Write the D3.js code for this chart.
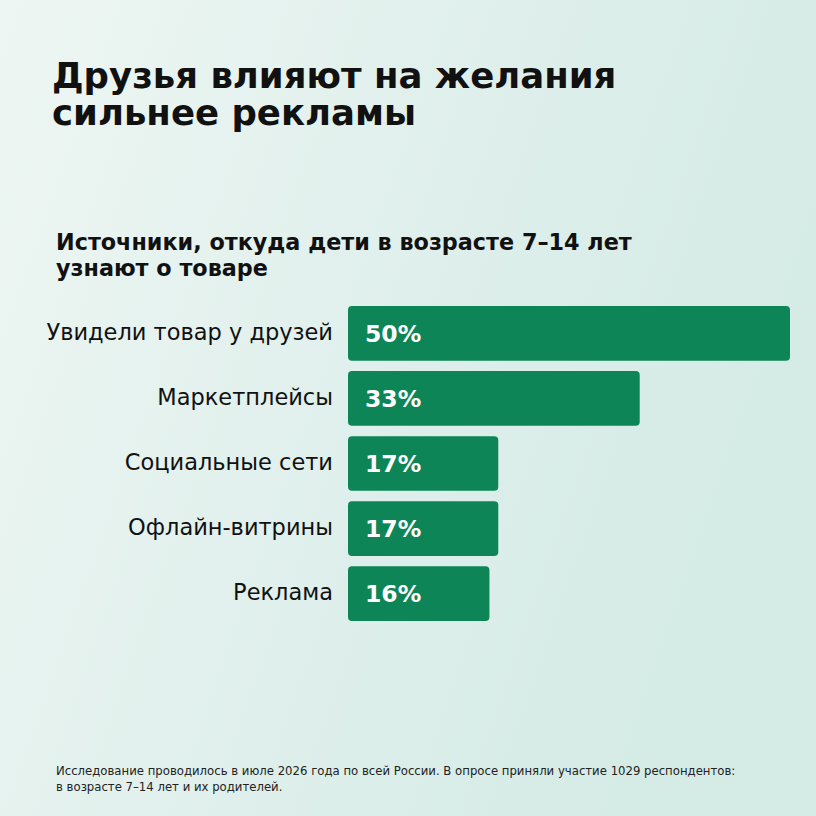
<html>
<head>
<meta charset="utf-8">
<style>
  body { margin: 0; }
  svg { display: block; }
</style>
</head>
<body>
<script src="https://cdn.jsdelivr.net/npm/d3@7"></script>
<script>
  var categories = ['Увидели товар у друзей', 'Маркетплейсы', 'Социальные сети', 'Офлайн-витрины', 'Реклама']
  var values = [50, 33, 17, 17, 16]
  var titleLines = ['Друзья влияют на желания', 'сильнее рекламы']
  var subtitleLines = ['Источники, откуда дети в возрасте 7–14 лет', 'узнают о товаре']
  var noteLines = ['Исследование проводилось в июле 2026 года по всей России. В опросе приняли участие 1029 респондентов:',
                   'в возрасте 7–14 лет и их родителей.']

  var width = 816, height = 816
  var font = '"DejaVu Sans", sans-serif'

  var svg = d3.select('body').append('svg')
    .attr('width', width)
    .attr('height', height)

  var defs = svg.append('defs')
  var grad = defs.append('linearGradient')
    .attr('id', 'bg')
    .attr('x1', '0').attr('y1', '0')
    .attr('x2', '1').attr('y2', '0.35')
  grad.append('stop').attr('offset', '0').attr('stop-color', '#eef6f3')
  grad.append('stop').attr('offset', '0.6').attr('stop-color', '#deefeb')
  grad.append('stop').attr('offset', '1').attr('stop-color', '#d5ebe5')

  svg.append('rect')
    .attr('width', width)
    .attr('height', height)
    .attr('fill', 'url(#bg)')

  svg.append('text')
    .attr('x', 52).attr('y', 88)
    .attr('font-family', font)
    .attr('font-size', 35.5)
    .attr('font-weight', 700)
    .attr('fill', '#111')
    .selectAll('tspan').data(titleLines).enter().append('tspan')
    .attr('x', 52)
    .attr('dy', function(d, i) { return i ? 37 : 0 })
    .text(function(d) { return d })

  svg.append('text')
    .attr('x', 56).attr('y', 250)
    .attr('font-family', font)
    .attr('font-size', 22.3)
    .attr('font-weight', 700)
    .attr('fill', '#111')
    .selectAll('tspan').data(subtitleLines).enter().append('tspan')
    .attr('x', 56)
    .attr('dy', function(d, i) { return i ? 26 : 0 })
    .text(function(d) { return d })

  var x = d3.scaleLinear()
    .domain([0, 50])
    .range([348, 790])

  var y = d3.scaleBand()
    .domain(categories)
    .range([306, 621])
    .paddingInner(0.16)
    .paddingOuter(0)

  var bars = svg.selectAll('g.bar')
    .data(categories)
    .enter()
    .append('g')
    .attr('class', 'bar')

  bars.append('rect')
    .attr('x', x(0))
    .attr('y', function(d) { return y(d) })
    .attr('width', function(d, i) { return x(values[i]) - x(0) })
    .attr('height', y.bandwidth())
    .attr('rx', 4)
    .attr('fill', '#0e8557')

  bars.append('text')
    .attr('x', x(0) + 17)
    .attr('y', function(d) { return y(d) + y.bandwidth() / 2 })
    .attr('dy', '0.36em')
    .attr('font-family', font)
    .attr('font-size', 23.5)
    .attr('font-weight', 700)
    .attr('fill', '#fff')
    .text(function(d, i) { return values[i] + '%' })

  bars.append('text')
    .attr('x', 333)
    .attr('y', function(d) { return y(d) + y.bandwidth() / 2 })
    .attr('dy', '0.3em')
    .attr('text-anchor', 'end')
    .attr('font-family', font)
    .attr('font-size', 22.5)
    .attr('fill', '#111')
    .text(function(d) { return d })

  svg.append('text')
    .attr('x', 56).attr('y', 775)
    .attr('font-family', font)
    .attr('font-size', 11.7)
    .attr('fill', '#222')
    .selectAll('tspan').data(noteLines).enter().append('tspan')
    .attr('x', 56)
    .attr('dy', function(d, i) { return i ? 16 : 0 })
    .text(function(d) { return d })
</script>
</body>
</html>
